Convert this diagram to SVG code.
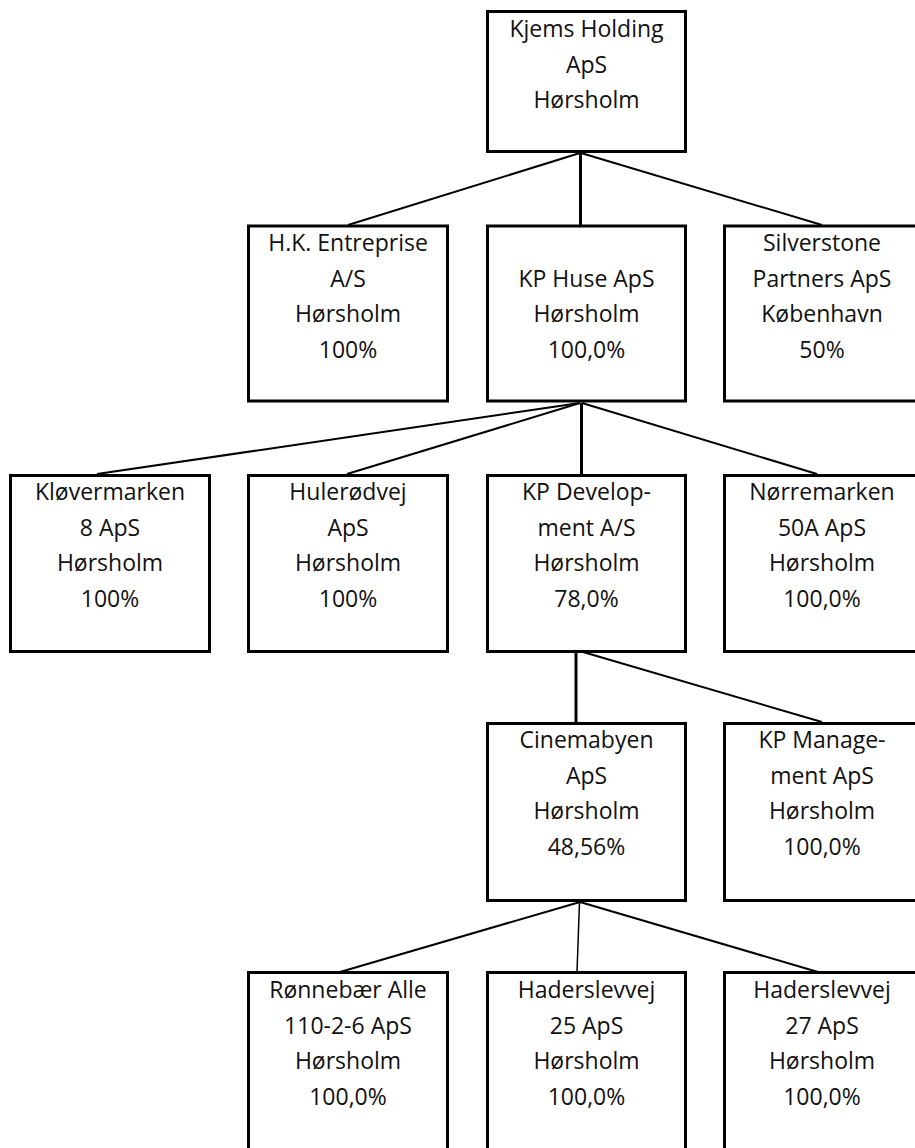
<svg xmlns="http://www.w3.org/2000/svg" width="915" height="1148" viewBox="0 0 915 1148">
<style>
.box{fill:#ffffff;stroke:#000000;stroke-width:3}
.t{font-family:"Open Sans","Noto Sans",sans-serif;font-size:23px;fill:#111111;text-anchor:middle}
.c{stroke:#000000;stroke-width:2;fill:none}
.v{stroke:#000000;stroke-width:3;fill:none}
</style>
<rect x="0" y="0" width="915" height="1148" fill="#ffffff"/>
<g id="connectors">
<line class="v" x1="580.5" y1="153" x2="580.5" y2="225"/>
<line class="c" x1="580" y1="153" x2="348" y2="225"/>
<line class="c" x1="581" y1="153" x2="822" y2="225"/>
<line class="c" x1="580" y1="403" x2="97" y2="474"/>
<line class="c" x1="580" y1="403" x2="347" y2="474"/>
<line class="v" x1="581.5" y1="403" x2="581.5" y2="474"/>
<line class="c" x1="582" y1="403" x2="817" y2="474"/>
<line class="v" x1="576" y1="647" x2="576" y2="722"/>
<line class="c" x1="583" y1="652" x2="822" y2="722"/>
<line class="c" x1="580" y1="902" x2="340" y2="972"/>
<line class="c" x1="579.5" y1="902" x2="577" y2="972" style="stroke-width:1.5"/>
<line class="c" x1="580" y1="902" x2="818" y2="972"/>
</g>
<g id="kjems-holding">
<rect class="box" x="487.5" y="11.5" width="198" height="140"/>
<text class="t" x="586.5" y="37">Kjems Holding</text>
<text class="t" x="586.5" y="72.5">ApS</text>
<text class="t" x="586.5" y="108">Hørsholm</text>
</g>
<g id="hk-entreprise">
<rect class="box" x="248.5" y="226" width="199" height="175"/>
<text class="t" x="348" y="251">H.K. Entreprise</text>
<text class="t" x="348" y="286.5">A/S</text>
<text class="t" x="348" y="322">Hørsholm</text>
<text class="t" x="348" y="357.5">100%</text>
</g>
<g id="kp-huse">
<rect class="box" x="487.5" y="226" width="198" height="175"/>
<text class="t" x="586.5" y="286.5">KP Huse ApS</text>
<text class="t" x="586.5" y="322">Hørsholm</text>
<text class="t" x="586.5" y="357.5">100,0%</text>
</g>
<g id="silverstone">
<rect class="box" x="724.5" y="226" width="199" height="175"/>
<text class="t" x="822" y="251">Silverstone</text>
<text class="t" x="822" y="286.5">Partners ApS</text>
<text class="t" x="822" y="322">København</text>
<text class="t" x="822" y="357.5">50%</text>
</g>
<g id="kloevermarken">
<rect class="box" x="10.5" y="475.5" width="199" height="176"/>
<text class="t" x="110" y="500">Kløvermarken</text>
<text class="t" x="110" y="535.5">8 ApS</text>
<text class="t" x="110" y="571">Hørsholm</text>
<text class="t" x="110" y="606.5">100%</text>
</g>
<g id="huleroedvej">
<rect class="box" x="248.5" y="475.5" width="199" height="176"/>
<text class="t" x="348" y="500">Hulerødvej</text>
<text class="t" x="348" y="535.5">ApS</text>
<text class="t" x="348" y="571">Hørsholm</text>
<text class="t" x="348" y="606.5">100%</text>
</g>
<g id="kp-development">
<rect class="box" x="487.5" y="475.5" width="198" height="176"/>
<text class="t" x="586.5" y="500">KP Develop-</text>
<text class="t" x="586.5" y="535.5">ment A/S</text>
<text class="t" x="586.5" y="571">Hørsholm</text>
<text class="t" x="586.5" y="606.5">78,0%</text>
</g>
<g id="noerremarken">
<rect class="box" x="724.5" y="475.5" width="199" height="176"/>
<text class="t" x="822" y="500">Nørremarken</text>
<text class="t" x="822" y="535.5">50A ApS</text>
<text class="t" x="822" y="571">Hørsholm</text>
<text class="t" x="822" y="606.5">100,0%</text>
</g>
<g id="cinemabyen">
<rect class="box" x="487.5" y="723.5" width="198" height="177"/>
<text class="t" x="586.5" y="748">Cinemabyen</text>
<text class="t" x="586.5" y="783.5">ApS</text>
<text class="t" x="586.5" y="819">Hørsholm</text>
<text class="t" x="586.5" y="854.5">48,56%</text>
</g>
<g id="kp-management">
<rect class="box" x="724.5" y="723.5" width="199" height="177"/>
<text class="t" x="822" y="748">KP Manage-</text>
<text class="t" x="822" y="783.5">ment ApS</text>
<text class="t" x="822" y="819">Hørsholm</text>
<text class="t" x="822" y="854.5">100,0%</text>
</g>
<g id="roennebaer-alle">
<rect class="box" x="248.5" y="972.5" width="199" height="190"/>
<text class="t" x="348" y="998">Rønnebær Alle</text>
<text class="t" x="348" y="1033.5">110-2-6 ApS</text>
<text class="t" x="348" y="1069">Hørsholm</text>
<text class="t" x="348" y="1104.5">100,0%</text>
</g>
<g id="haderslevvej-25">
<rect class="box" x="487.5" y="972.5" width="198" height="190"/>
<text class="t" x="586.5" y="998">Haderslevvej</text>
<text class="t" x="586.5" y="1033.5">25 ApS</text>
<text class="t" x="586.5" y="1069">Hørsholm</text>
<text class="t" x="586.5" y="1104.5">100,0%</text>
</g>
<g id="haderslevvej-27">
<rect class="box" x="724.5" y="972.5" width="199" height="190"/>
<text class="t" x="822" y="998">Haderslevvej</text>
<text class="t" x="822" y="1033.5">27 ApS</text>
<text class="t" x="822" y="1069">Hørsholm</text>
<text class="t" x="822" y="1104.5">100,0%</text>
</g>
</svg>
